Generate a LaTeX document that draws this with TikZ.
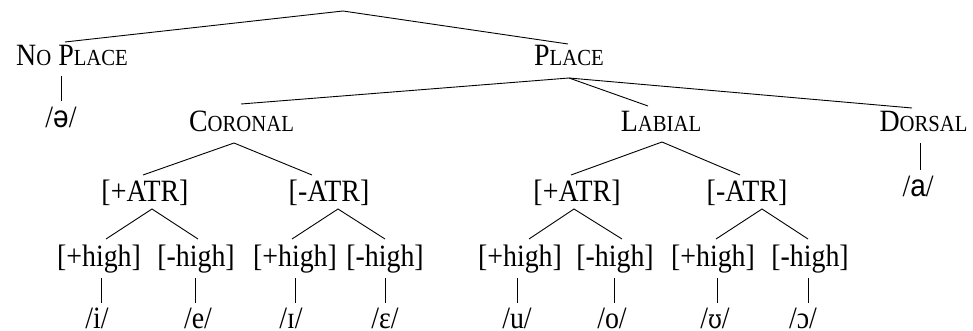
\documentclass[tikz,border=0pt]{standalone}
\usepackage{fontspec}
\setmainfont{Liberation Serif}[FakeStretch=0.9]
\newfontfamily\sansipa{Liberation Sans}[FakeStretch=0.9]
\newfontfamily\serifipa{DejaVu Serif}[FakeStretch=0.85,Scale=0.85]
\usetikzlibrary{calc}
\newcommand\smc[1]{{\fontsize{23}{25}\selectfont #1}}
\begin{document}
\begin{tikzpicture}[x=1pt,y=-1pt,
  lbl/.style={inner sep=0pt, anchor=base, font=\fontsize{31}{33}\selectfont},
  edge/.style={line width=0.9pt, black}]
\useasboundingbox (0,0) rectangle (973,331);
\coordinate (root) at (343,11);
\node[lbl] (np) at (72,66) {N\smc{O} P\smc{LACE}};
\node[lbl] (pl) at (569,66) {P\smc{LACE}};
\node[lbl] (schwa) at (61,128) {/{\sansipa ə}/};
\node[lbl] (cor) at (241.5,132) {C\smc{ORONAL}};
\node[lbl] (lab) at (661,132) {L\smc{ABIAL}};
\node[lbl] (dor) at (923.5,132) {D\smc{ORSAL}};
\node[lbl] (a) at (918,196) {/{\sansipa a}/};
\node[lbl] (catp) at (145,201) {[+ATR]};
\node[lbl] (catm) at (329,201) {[-ATR]};
\node[lbl] (latp) at (577,201) {[+ATR]};
\node[lbl] (latm) at (747,201) {[-ATR]};
\node[lbl] (h1) at (99,266) {[+high]};
\node[lbl] (h2) at (196,266) {[-high]};
\node[lbl] (h3) at (295,266) {[+high]};
\node[lbl] (h4) at (385,266) {[-high]};
\node[lbl] (h5) at (520,266) {[+high]};
\node[lbl] (h6) at (615,266) {[-high]};
\node[lbl] (h7) at (713,266) {[+high]};
\node[lbl] (h8) at (810,266) {[-high]};
\node[lbl] (v1) at (97,328) {/i/};
\node[lbl] (v2) at (198,328) {/e/};
\node[lbl] (v3) at (291,328) {/ɪ/};
\node[lbl] (v4) at (385,328) {/ɛ/};
\node[lbl] (v5) at (517,328) {/u/};
\node[lbl] (v6) at (612,328) {/o/};
\node[lbl] (v7) at (715,328) {/{\serifipa ʊ}/};
\node[lbl] (v8) at (803,328) {/ɔ/};
% top level
\draw[edge] ($(np.base)+(-7,-24)$) -- (root) -- ($(pl.base)+(-1,-22)$);
\draw[edge] ($(np.base)+(-11,10)$) -- ($(schwa.base)+(0,-27)$);
% place
\draw[edge] ($(cor.base)+(-0.5,-28)$) -- ($(pl.base)+(0,12)$) -- ($(dor.base)+(-11.5,-24)$);
\draw[edge] ($(pl.base)+(0,12)$) -- ($(lab.base)+(-13,-26)$);
\draw[edge] ($(dor.base)+(-3.5,11)$) -- ($(a.base)+(2,-26)$);
% coronal / labial
\draw[edge] ($(catp.base)+(-2,-26)$) -- ($(cor.base)+(-7.5,11)$) -- ($(catm.base)+(-17,-26)$);
\draw[edge] ($(latp.base)+(-6,-26)$) -- ($(lab.base)+(1,10)$) -- ($(latm.base)+(-7,-26)$);
% ATR
\draw[edge] ($(h1.base)+(7,-27)$) -- ($(catp.base)+(7,8)$) -- ($(h2.base)+(2,-27)$);
\draw[edge] ($(h3.base)+(-3,-27)$) -- ($(catm.base)+(9,8)$) -- ($(h4.base)+(0,-27)$);
\draw[edge] ($(h5.base)+(9,-27)$) -- ($(latp.base)+(-3,8)$) -- ($(h6.base)+(7,-27)$);
\draw[edge] ($(h7.base)+(3,-27)$) -- ($(latm.base)+(15,8)$) -- ($(h8.base)+(-2,-27)$);
% high
\draw[edge] ($(h1.base)+(2,12)$) -- ($(v1.base)+(4,-25)$);
\draw[edge] ($(h2.base)+(-1,12)$) -- ($(v2.base)+(-3,-25)$);
\draw[edge] ($(h3.base)+(0,12)$) -- ($(v3.base)+(4,-25)$);
\draw[edge] ($(h4.base)+(0,12)$) -- ($(v4.base)+(0,-25)$);
\draw[edge] ($(h5.base)+(-3,12)$) -- ($(v5.base)+(0,-25)$);
\draw[edge] ($(h6.base)+(-1,12)$) -- ($(v6.base)+(2,-25)$);
\draw[edge] ($(h7.base)+(4,12)$) -- ($(v7.base)+(2,-25)$);
\draw[edge] ($(h8.base)+(-2,12)$) -- ($(v8.base)+(5,-25)$);
\end{tikzpicture}
\end{document}
